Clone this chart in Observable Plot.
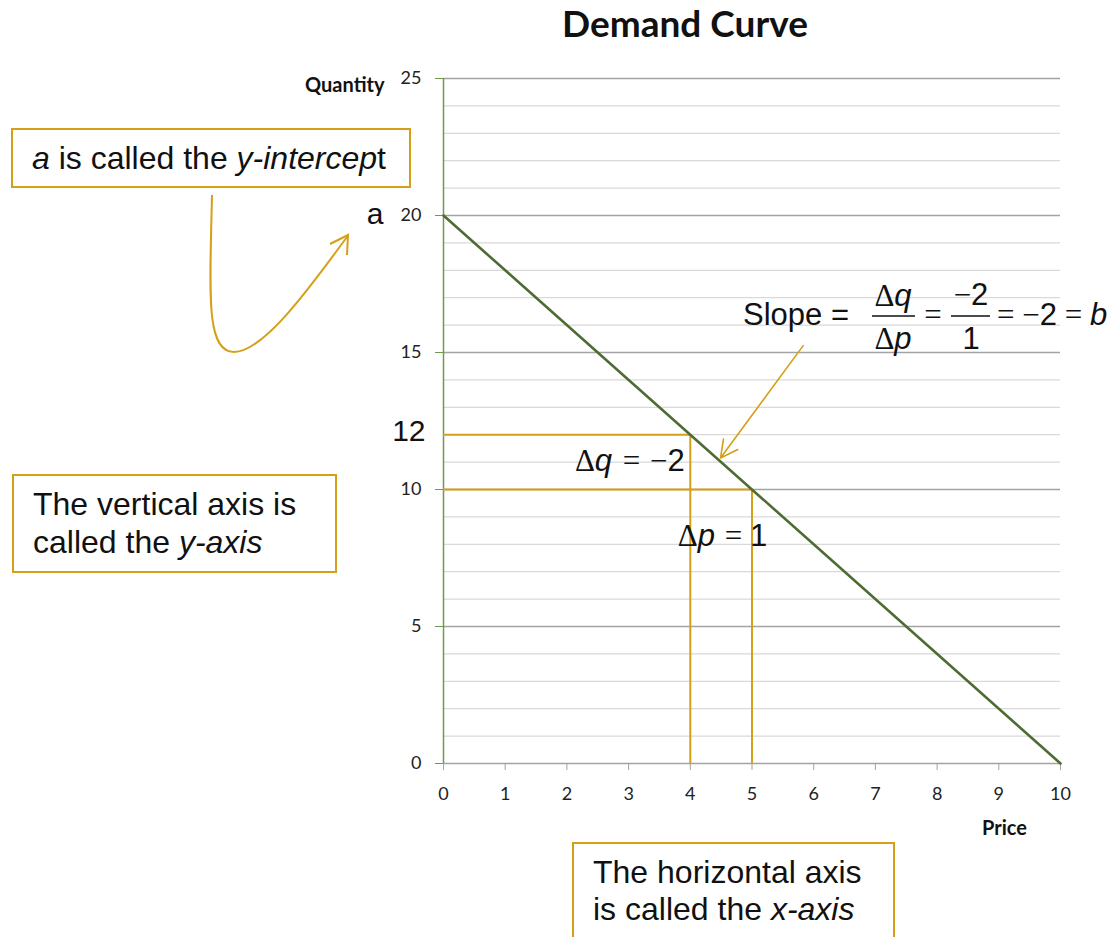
<!DOCTYPE html>
<html>
<head>
<meta charset="utf-8">
<script src="https://cdn.jsdelivr.net/npm/d3@7"></script>
<script src="https://cdn.jsdelivr.net/npm/@observablehq/plot@0.6"></script>
<style>
  body { margin: 0; background: #fff; }
  #chart { position: relative; width: 1117px; height: 937px; overflow: hidden; }
  #chart svg { display: block; }
</style>
</head>
<body>
<div id="chart"></div>
<script>
// ---- data ----
const priceTicks = [0, 1, 2, 3, 4, 5, 6, 7, 8, 9, 10];
const qtyMajor = [0, 5, 10, 15, 20, 25];
const qtyMinor = [1, 2, 3, 4, 6, 7, 8, 9, 11, 12, 13, 14, 16, 17, 18, 19, 21, 22, 23, 24];
const demand = [
  { price: 0, quantity: 20 },
  { price: 10, quantity: 0 }
];
const guides = [
  { price: 4, quantity: 12 },
  { price: 5, quantity: 10 }
];
const intercept = [{ price: 0, quantity: 20, label: "a" }];
const qLabel = [{ price: 0, quantity: 12, label: "12" }];
const slopeArrow = [{ fromPrice: 5.83, fromQty: 15.25, toPrice: 4.49, toQty: 11.15 }];
const titleText = "Demand Curve";
const xLabel = "Price";
const yLabel = "Quantity";

const gold = "#d4a017";
const lineGreen = "#4e6b34";
const axisGreen = "#6f9a4e";
const SANS = "'Liberation Sans', Arial, sans-serif";
const SERIF = "'Liberation Serif', 'Times New Roman', serif";
const CAL = "Lato, 'Open Sans', sans-serif";

const svg = Plot.plot({
  width: 1117,
  height: 937,
  marginLeft: 443,
  marginRight: 57,
  marginTop: 78,
  marginBottom: 174,
  x: { domain: [0, 10] },
  y: { domain: [0, 25] },
  style: { fontFamily: CAL, background: "white", overflow: "visible", color: "#222" },
  marks: [
    Plot.ruleY(qtyMinor, { x1: 0, x2: 10, stroke: "#d9d9d9", strokeWidth: 1.3 }),
    Plot.ruleY(qtyMajor.filter(d => d > 0), { x1: 0, x2: 10, stroke: "#a3a3a3", strokeWidth: 1.3 }),
    Plot.axisY({ ticks: qtyMajor, tickSize: 8, tickPadding: 14, stroke: axisGreen, fill: "#222", fontSize: 18, label: null, tickFormat: d => String(d) }),
    Plot.axisX({ ticks: priceTicks, tickSize: 7, tickPadding: 17, stroke: "#a3a3a3", fill: "#222", fontSize: 18, label: null, tickFormat: d => String(d) }),
    Plot.ruleY([0], { x1: 0, x2: 10, stroke: "#a3a3a3", strokeWidth: 1.5 }),
    Plot.ruleX([0], { y1: 0, y2: 25, stroke: axisGreen, strokeWidth: 1.5 }),
    Plot.ruleY(guides, { y: "quantity", x1: 0, x2: "price", stroke: gold, strokeWidth: 2 }),
    Plot.ruleX(guides, { x: "price", y1: 0, y2: "quantity", stroke: gold, strokeWidth: 2 }),
    Plot.line(demand, { x: "price", y: "quantity", stroke: lineGreen, strokeWidth: 2.6 }),
    Plot.arrow(slopeArrow, { x1: "fromPrice", y1: "fromQty", x2: "toPrice", y2: "toQty", stroke: gold, strokeWidth: 1.6, headLength: 18, headAngle: 55 }),
    Plot.text(intercept, { x: "price", y: "quantity", text: "label", textAnchor: "end", dx: -60, dy: -1, fontSize: 30, fontFamily: SANS, fill: "#111" }),
    Plot.text(qLabel, { x: "price", y: "quantity", text: "label", textAnchor: "end", dx: -18, dy: -3, fontSize: 30, fontFamily: SANS, fill: "#111" }),
    Plot.text([titleText], { frameAnchor: "top", lineAnchor: "middle", dx: -67, dy: -53, fontSize: 37, fontWeight: "bold", fontFamily: CAL, fill: "#111" }),
    Plot.text([yLabel], { frameAnchor: "top-left", lineAnchor: "middle", textAnchor: "end", dx: -59, dy: 7, fontSize: 20, fontWeight: "bold", fontFamily: CAL, fill: "#111" }),
    Plot.text([xLabel], { frameAnchor: "bottom-right", lineAnchor: "middle", textAnchor: "middle", dx: -56, dy: 65, fontSize: 20, fontWeight: "bold", fontFamily: CAL, fill: "#111" })
  ]
});

document.getElementById("chart").appendChild(svg);

const sx = svg.scale("x"), sy = svg.scale("y");
const X = v => sx.apply(v), Y = v => sy.apply(v);
const g = d3.select(svg).append("g").attr("class", "annotations");

// helper to write rich text
function rich(x, y, parts, anchor = "start", size = 31) {
  const t = g.append("text").attr("x", x).attr("y", y).attr("text-anchor", anchor)
    .attr("font-size", size).attr("fill", "#111");
  parts.forEach(p => {
    const s = t.append("tspan").text(p.t)
      .attr("font-family", p.f === "serif" ? SERIF : SANS)
      .attr("font-style", p.i ? "italic" : "normal");
    if (p.dx) s.attr("dx", p.dx);
  });
  return t;
}

// Δq = −2
rich(X(4) - 5, Y(11) + 9, [
  { t: "Δ", f: "serif" }, { t: "q", i: true }, { t: " = ", f: "serif", dx: 3 }, { t: "−", f: "serif", dx: 2 }, { t: "2" }
], "end");
// Δp = 1
rich(X(4) - 12, Y(8) + 2, [
  { t: "Δ", f: "serif" }, { t: "p", i: true }, { t: " = ", f: "serif", dx: 2 }, { t: "1" }
], "start");

// Slope formula
const ox = 743, base = 325;
rich(ox, base, [{ t: "Slope =" }], "start");
const f1 = 893, f2 = 971, barY = 316;
rich(f1, base - 19, [{ t: "Δ", f: "serif" }, { t: "q", i: true }], "middle");
rich(f1, base + 24, [{ t: "Δ", f: "serif" }, { t: "p", i: true }], "middle");
g.append("line").attr("x1", 872).attr("x2", 915).attr("y1", barY).attr("y2", barY).attr("stroke", "#111").attr("stroke-width", 1.5);
rich(933, base, [{ t: "=", f: "serif" }], "middle");
rich(f2, base - 20, [{ t: "−", f: "serif" }, { t: "2" }], "middle");
rich(f2, base + 24, [{ t: "1" }], "middle");
g.append("line").attr("x1", 951).attr("x2", 990).attr("y1", barY).attr("y2", barY).attr("stroke", "#111").attr("stroke-width", 1.5);
rich(997, base, [{ t: "=", f: "serif" }, { t: " −", f: "serif" }, { t: "2" }, { t: " = ", f: "serif" }, { t: "b", i: true }], "start");

// Boxes
function box(x, y, w, h, lines) {
  g.append("rect").attr("x", x).attr("y", y).attr("width", w).attr("height", h)
    .attr("fill", "white").attr("stroke", gold).attr("stroke-width", 2);
  lines.forEach(l => rich(l.x, l.y, l.parts, "start", 32));
}
box(12, 129, 398, 58, [
  { x: 32, y: 169, parts: [{ t: "a", i: true }, { t: " is called the " }, { t: "y-intercep", i: true }, { t: "t" }] }
]);
box(13, 475, 323, 97, [
  { x: 33, y: 515, parts: [{ t: "The vertical axis is" }] },
  { x: 33, y: 553, parts: [{ t: "called the " }, { t: "y-axis", i: true }] }
]);
box(573, 843, 321, 110, [
  { x: 593, y: 883, parts: [{ t: "The horizontal axis" }] },
  { x: 593, y: 920, parts: [{ t: "is called the " }, { t: "x-axis", i: true }] }
]);

// curved arrow from the intercept box to "a"
g.append("path").attr("d", "M212,195 C210,290 205,352 234,352 C265,352 315,280 347,237")
  .attr("fill", "none").attr("stroke", gold).attr("stroke-width", 2);
g.append("path").attr("d", "M330,244 L348,235 L347,255")
  .attr("fill", "none").attr("stroke", gold).attr("stroke-width", 2).attr("stroke-linejoin", "miter");
</script>
</body>
</html>
